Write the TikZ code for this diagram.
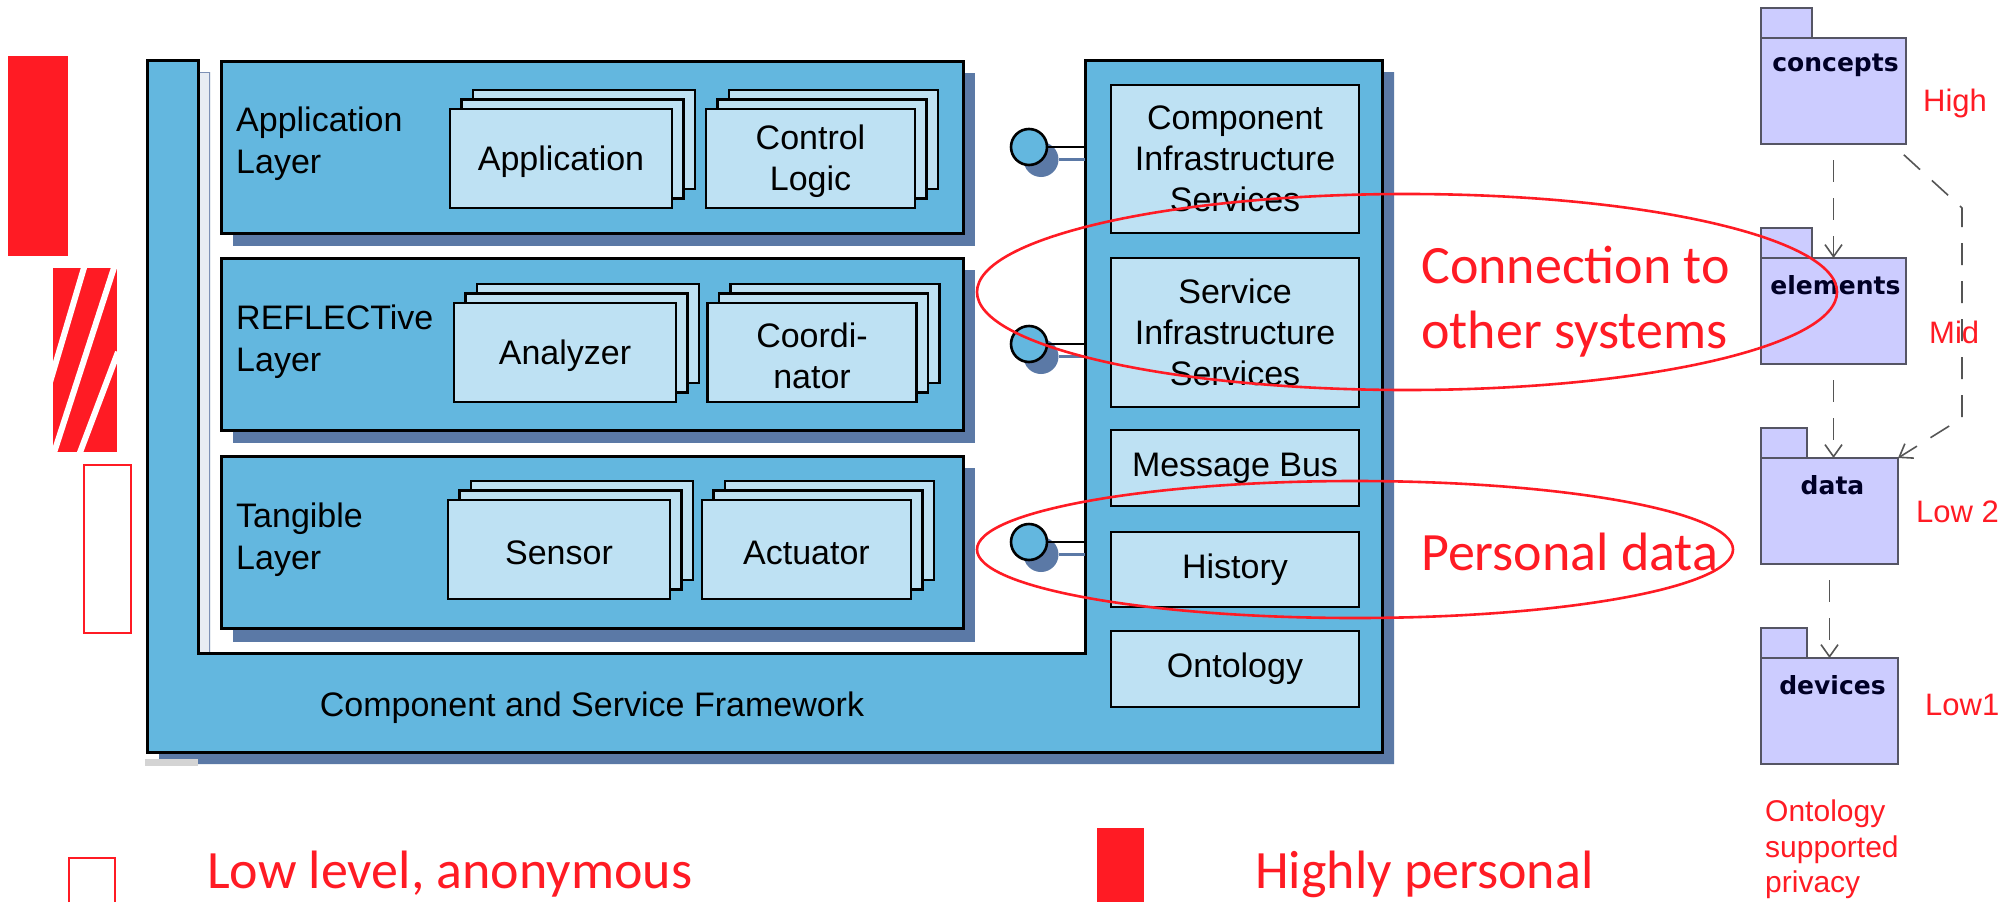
\documentclass[tikz,border=0pt]{standalone}
\usepackage{fontspec}
\setmainfont{Liberation Sans}
\newfontfamily\redfont{Carlito}
\newfontfamily\pkgfont{DejaVu Sans}
\usetikzlibrary{arrows.meta,calc,shapes.geometric}
\definecolor{layerblue}{RGB}{99,183,223}
\definecolor{lightbox}{RGB}{190,225,243}
\definecolor{shadowblue}{RGB}{91,121,166}
\definecolor{hred}{RGB}{255,27,36}
\definecolor{pkgfill}{RGB}{204,204,255}
\definecolor{pkgline}{RGB}{85,85,100}
\definecolor{depgray}{RGB}{85,85,85}
\definecolor{stripgray}{RGB}{125,144,181}
\definecolor{stripfill}{RGB}{232,236,243}
\definecolor{artgray}{RGB}{212,212,212}
\tikzset{
  layerbox/.style={draw=black, line width=3pt, fill=layerblue, inner sep=0pt, outer sep=0pt, minimum width=742pt, minimum height=172pt},
  stackbox/.style={draw=black, line width=2.6pt, fill=lightbox, inner sep=0pt, outer sep=0pt, align=center, font=\fontsize{34}{41}\selectfont},
  svcbox/.style={draw=black, line width=2.8pt, fill=lightbox, inner sep=0pt, outer sep=0pt, align=center, minimum width=248pt, font=\fontsize{34}{41}\selectfont},
  layerlabel/.style={inner sep=0pt, anchor=west, align=left, font=\fontsize{34}{42}\selectfont},
  pin/.style={circle, draw=black, line width=2.6pt, fill=layerblue, minimum size=36pt, inner sep=0pt, outer sep=0pt},
  pinshadow/.style={circle, fill=shadowblue, minimum size=35pt, inner sep=0pt, outer sep=0pt},
  pkgbody/.style={draw=pkgline, line width=2pt, fill=pkgfill, inner sep=0pt, outer sep=0pt, minimum height=106pt},
  pkgtab/.style={draw=pkgline, line width=2pt, fill=pkgfill, inner sep=0pt, outer sep=0pt, minimum height=30pt, anchor=south west},
  pkglabel/.style={inner sep=0pt, font=\pkgfont\bfseries\fontsize{25}{30}\selectfont, text=black!85!blue},
  dep/.style={draw=depgray, line width=1.6pt, dash pattern=on 22pt off 16pt, dash phase=22pt, -{Straight Barb[length=12pt,width=17pt,line width=1.6pt]}},
  redtext/.style={inner sep=0pt, text=hred, font=\redfont\fontsize{54}{65}\selectfont},
  sidelabel/.style={inner sep=0pt, anchor=base west, text=hred, font=\fontsize{31}{36}\selectfont},
  ring/.style={ellipse, draw=hred, line width=2.6pt, inner sep=0pt, outer sep=0pt},
}
\newcommand\mkstack[6]{%
  \node[stackbox, minimum width=#4pt, minimum height=#5pt] (#1c) at (#2+23,#3-19) {};
  \node[stackbox, minimum width=#4pt, minimum height=#5pt] (#1b) at (#2+11.5,#3-9.5) {};
  \node[stackbox, minimum width=#4pt, minimum height=#5pt] (#1) at (#2,#3) {};
  \node[inner sep=0pt, align=center, font=\fontsize{34}{41}\selectfont] (#1t) at (#2,#3+3) {#6};
}
\begin{document}
\begin{tikzpicture}[x=1pt, y=-1pt]
\path[use as bounding box, fill=white] (0,0) rectangle (2009,902);
% ---------- legend bars on the left
\fill[hred] (8,56) rectangle (68,256);
\begin{scope}
  \clip (53,268) rectangle (117,452);
  \fill[hred] (53,268) rectangle (117,452);
  \draw[white, line width=6pt] (86.3,260) -- (48,389);
  \draw[white, line width=6pt] (116.5,260) -- (51,462);
  \draw[white, line width=6pt] (118,352) -- (76,463);
\end{scope}
\draw[hred, line width=2.5pt] (84,465) rectangle (131,633);
\draw[hred, line width=2.5pt] (69,902) -- (69,858) -- (115,858) -- (115,902);
\fill[hred] (1097,828) rectangle (1144,902);
% ---------- framework (U shape)
\fill[shadowblue] (159,72) -- (210,72) -- (210,665) -- (1097,665) -- (1097,72) -- (1394,72) -- (1394,764) -- (159,764) -- cycle;
\fill[artgray] (145,759) rectangle (198,766);
\draw[line width=3pt, fill=layerblue] (147,60) -- (198,60) -- (198,653) -- (1085,653) -- (1085,60) -- (1382,60) -- (1382,752) -- (147,752) -- cycle;
\fill[stripfill] (199.5,72) rectangle (210,651.5);
\draw[stripgray, line width=1.5pt] (199.5,72.5) -- (209.5,72.5) -- (209.5,651.5);
\node[inner sep=0pt, anchor=base, font=\fontsize{34}{41}\selectfont] (fwL) at (592,716) {Component and Service Framework};
% ---------- layers
\fill[shadowblue] (233,73) rectangle (975,246);
\fill[shadowblue] (233,270) rectangle (975,443);
\fill[shadowblue] (233,468) rectangle (975,642);
\node[layerbox] (appl) at (592,147) {};
\node[layerbox] (refl) at (592,344) {};
\node[layerbox] (tang) at (592,542.5) {};
\node[layerlabel] (applL) at (236,144) {Application\\Layer};
\node[layerlabel] (reflL) at (236,342) {REFLECTive\\Layer};
\node[layerlabel] (tangL) at (236,540) {Tangible\\Layer};
\mkstack{app}{561}{158.5}{222}{99}{Application}
\mkstack{ctl}{810.5}{158.5}{209}{99}{Control\\Logic}
\mkstack{ana}{565}{352.5}{222}{99}{Analyzer}
\mkstack{coo}{812}{352.5}{209}{99}{Coordi-\\nator}
\mkstack{sen}{559}{549.5}{222}{99}{Sensor}
\mkstack{act}{806.5}{549.5}{209}{99}{Actuator}
% ---------- services column
\node[svcbox, minimum height=148pt] (cis) at (1235,159) {Component\\Infrastructure\\Services};
\node[svcbox, minimum height=149pt] (sis) at (1235,332.5) {Service\\Infrastructure\\Services};
\node[svcbox, minimum height=76pt] (mbus) at (1235,468) {Message Bus};
\node[svcbox, minimum height=75pt] (hist) at (1235,569.5) {History};
\node[svcbox, minimum height=76pt] (onto) at (1235,669) {Ontology};
% ---------- lollipops
\coordinate (colL) at (1085,0);
\foreach \n/\yy in {p1/147, p2/344, p3/542} {
  \node[pinshadow] (\n s) at (1041,\yy+12.5) {};
  \draw[shadowblue, line width=2.2pt] (\n s.east) -- (\n s -| colL);
  \node[pin] (\n) at (1029,\yy) {};
  \draw[black, line width=2.7pt] (\n.east) -- (\n -| colL);
}
% ---------- packages
\node[pkgbody, minimum width=145pt] (concepts) at (1833.5,91) {};
\node[pkgtab, minimum width=51pt] (conceptsT) at (concepts.north west) {};
\node[pkglabel] (conceptsL) at ($(concepts.north)+(2,27)$) {concepts};
\node[pkgbody, minimum width=145pt] (elements) at (1833.5,311) {};
\node[pkgtab, minimum width=51pt] (elementsT) at (elements.north west) {};
\node[pkglabel] (elementsL) at ($(elements.north)+(2,27)$) {elements};
\node[pkgbody, minimum width=137pt] (data) at (1829.5,511) {};
\node[pkgtab, minimum width=46pt] (dataT) at (data.north west) {};
\node[pkglabel] (dataL) at ($(data.north)+(3,27)$) {data};
\node[pkgbody, minimum width=137pt] (devices) at (1829.5,711) {};
\node[pkgtab, minimum width=46pt] (devicesT) at (devices.north west) {};
\node[pkglabel] (devicesL) at ($(devices.north)+(3,27)$) {devices};
\coordinate (k1) at (1962,208);
\coordinate (k2) at (1962,418);
\draw[dep] (concepts.south) -- (elements.north);
\draw[dep] (elements.south) -- (elements.south |- data.north);
\draw[dep] (data.south) -- (devices.north);
\draw[dep] ([xshift=-14pt]concepts.south east) -- (k1) -- (k2) -- (data.north east);
\node[sidelabel] (highL) at (1923,111) {High};
\node[sidelabel] (midL) at (1929,343) {Mid};
\node[sidelabel] (low2L) at (1916,522) {Low 2};
\node[sidelabel] (low1L) at (1925,715) {Low1};
\node[inner sep=0pt, anchor=north west, align=left, text=hred, font=\fontsize{30}{35.5}\selectfont] (ontoL) at (1765,800) {Ontology\\supported\\privacy};
% ---------- annotations
\node[ring, minimum width=860pt, minimum height=196pt] (ring1) at (1407,292) {};
\node[ring, minimum width=756pt, minimum height=137pt] (ring2) at (1355,549.5) {};
\node[redtext, anchor=west, align=left] (conn) at (1421,302) {Connection to\\other systems};
\node[redtext, anchor=base west] (pers) at (1421,570) {Personal data};
\node[redtext, anchor=base west] (lowlev) at (207,888) {Low level, anonymous};
\node[redtext, anchor=base west] (highp) at (1255,888) {Highly personal};
\end{tikzpicture}
\end{document}
